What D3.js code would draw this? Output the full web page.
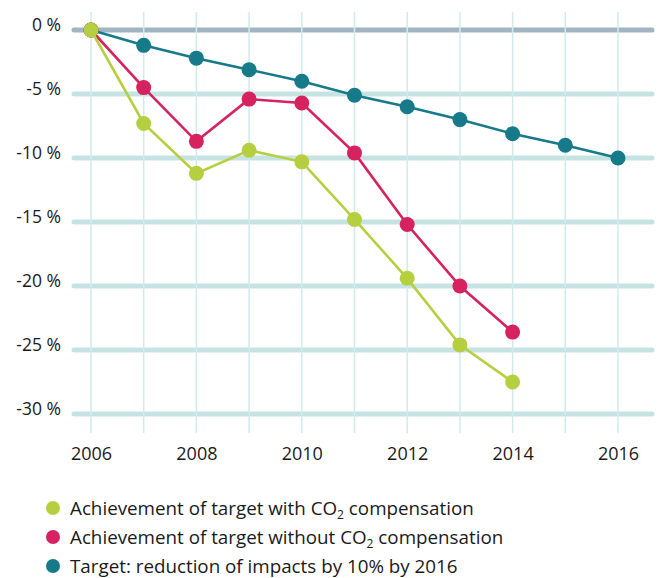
<!DOCTYPE html>
<html>
<head>
<meta charset="utf-8">
<script src="https://cdn.jsdelivr.net/npm/d3@7"></script>
<style>
  html, body { margin: 0; padding: 0; background: #fff; }
  svg { display: block; font-family: "Open Sans", "Noto Sans", sans-serif; }
</style>
</head>
<body>
<svg id="chart" width="658" height="578"></svg>
<script>
const years = [2006, 2007, 2008, 2009, 2010, 2011, 2012, 2013, 2014, 2015, 2016];
const yTicks = [0, -5, -10, -15, -20, -25, -30];
const xTicks = [2006, 2008, 2010, 2012, 2014, 2016];

const withCO2 = [0, -7.3, -11.2, -9.4, -10.3, -14.8, -19.4, -24.6, -27.5];
const withoutCO2 = [0, -4.5, -8.7, -5.4, -5.7, -9.6, -15.2, -20.0, -23.6];
const target = [0, -1.2, -2.2, -3.1, -4.0, -5.1, -6.0, -7.0, -8.1, -9.0, -10.0];

const seriesNames = [
  ["Achievement of target with CO", "2", " compensation"],
  ["Achievement of target without CO", "2", " compensation"],
  ["Target: reduction of impacts by 10% by 2016", "", ""]
];
const colors = ["#b6cf40", "#d6225f", "#167a8a"];

const svg = d3.select("#chart");
const x = d3.scaleLinear().domain([2006, 2016]).range([91, 618]);
const y = d3.scaleLinear().domain([0, -30]).range([30, 414]);

// horizontal grid
svg.append("g").selectAll("line").data(yTicks).join("line")
  .attr("x1", 74).attr("x2", 652)
  .attr("y1", d => y(d)).attr("y2", d => y(d))
  .attr("stroke", d => d === 0 ? "#a0b5c1" : "#c5e3e3")
  .attr("stroke-width", 5)
  .attr("stroke-linecap", "round");

// vertical grid
svg.append("g").selectAll("line").data(years).join("line")
  .attr("x1", d => x(d)).attr("x2", d => x(d))
  .attr("y1", 12).attr("y2", 433)
  .attr("stroke", "#d2eaeb")
  .attr("stroke-width", 1.5);

// y axis labels
const yAxis = d3.axisLeft(y).tickValues(yTicks).tickSize(0).tickPadding(0)
  .tickFormat(d => d + " %");
const gy = svg.append("g").attr("transform", "translate(61,0)").call(yAxis);
gy.select(".domain").remove();
gy.selectAll("text").attr("font-size", 17.5).attr("fill", "#1a1a1a")
  .attr("font-family", "'Open Sans', sans-serif").attr("dy", "0");

// x axis labels
const xAxis = d3.axisBottom(x).tickValues(xTicks).tickSize(0).tickPadding(0)
  .tickFormat(d3.format("d"));
const gx = svg.append("g").attr("transform", "translate(0,460)").call(xAxis);
gx.select(".domain").remove();
gx.selectAll("text").attr("font-size", 18).attr("fill", "#1a1a1a")
  .attr("font-family", "'Open Sans', sans-serif").attr("y", 0).attr("dy", "0");

// series
const data = [target, withoutCO2, withCO2];
const cols = [colors[2], colors[1], colors[0]];
const line = d3.line().x((d, i) => x(years[i])).y(d => y(d));
data.forEach((s, k) => {
  const g = svg.append("g");
  g.append("path").datum(s).attr("d", line)
    .attr("fill", "none").attr("stroke", cols[k]).attr("stroke-width", 2.6);
  g.selectAll("circle").data(s).join("circle")
    .attr("cx", (d, i) => x(years[i])).attr("cy", d => y(d))
    .attr("r", 7.5).attr("fill", cols[k]);
});

// legend
const legY = [508, 537, 566];
const leg = svg.append("g");
seriesNames.forEach((parts, i) => {
  leg.append("circle").attr("cx", 53).attr("cy", legY[i]).attr("r", 7).attr("fill", colors[i]);
  const t = leg.append("text").attr("x", 70).attr("y", legY[i] + 7)
    .attr("font-size", 18.8).attr("fill", "#1a1a1a");
  t.append("tspan").text(parts[0]);
  if (parts[1]) {
    t.append("tspan").attr("font-size", 12).attr("dy", 4).text(parts[1]);
    t.append("tspan").attr("dy", -4).text(parts[2]);
  }
});
</script>
</body>
</html>
